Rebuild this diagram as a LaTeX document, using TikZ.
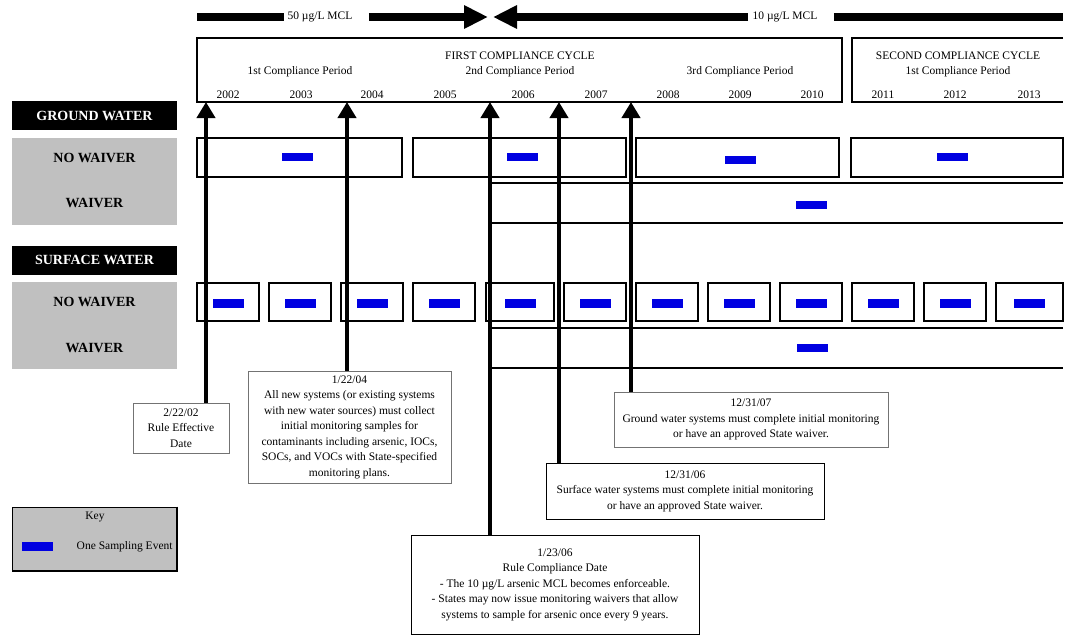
\documentclass[tikz,border=0pt]{standalone}
\usepackage{fontspec}
\setmainfont{Liberation Serif}
\usetikzlibrary{arrows.meta,positioning}
\definecolor{eventblue}{RGB}{0,0,225}
\definecolor{labelgray}{RGB}{192,192,192}

\begin{document}
\begin{tikzpicture}[x=1pt, y=-1pt, font=\fontsize{11.5}{15.5}\selectfont,
  period/.style = {draw, line width=1.2pt},
  event/.style = {fill=eventblue, minimum width=31pt, minimum height=8.5pt, inner sep=0pt},
  water/.style = {fill=black, text=white, font=\fontsize{14}{16}\selectfont\bfseries, minimum width=165pt, minimum height=29pt, inner sep=0pt},
  rowbox/.style = {fill=labelgray, minimum width=165pt, minimum height=87pt, inner sep=0pt},
  rowlbl/.style = {font=\fontsize{14}{16}\selectfont\bfseries},
  note/.style = {draw=black!55, fill=white, line width=1pt, align=center, inner sep=0pt},
  mcl/.style = {line width=7.5pt},
  mcltip/.style = {mcl, -{Triangle[length=24pt,width=22pt]}},
  datearrow/.style = {line width=4pt, -{Triangle[length=16pt,width=18pt]}}]
\useasboundingbox (0,0) rectangle (1075,641);

\node (mcl50) at (320,17) {50 µg/L MCL};
\node (mcl10) at (785,17) {10 µg/L MCL};
\coordinate (meet) at (490.5,17);
\draw[mcl] (197,17) -- (mcl50.west);
\draw[mcltip] ([xshift=13pt]mcl50.east) -- ([xshift=-2.5pt]meet);
\draw[mcltip] ([xshift=-1pt]mcl10.west) -- ([xshift=2.5pt]meet);
\draw[mcl] ([xshift=13pt]mcl10.east) -- (1063,17);

\draw[period] (197,38) rectangle (842,102);
\draw[period] (1063,38) -- (852,38) -- (852,102) -- (1063,102);
\node (cycle1) at (520,56) {FIRST COMPLIANCE CYCLE};
\node (per1) at (300,72) {1st Compliance Period};
\node (per2) at (520,72) {2nd Compliance Period};
\node (per3) at (740,72) {3rd Compliance Period};
\node (cycle2) at (958,56) {SECOND COMPLIANCE CYCLE};
\node (per4) at (958,72) {1st Compliance Period};
\foreach \yr/\x in {2002/228,2003/301,2004/372,2005/445,2006/523,2007/596,2008/668,2009/740,2010/812,2011/883,2012/955,2013/1029}
  \node (y\yr) at (\x,95) {\yr};

\node[water] (gw) at (94.5,115.5) {GROUND WATER};
\node[rowbox] (gwrows) at (94.5,181.5) {};
\node[rowlbl] (gwnw) at (94.5,158) {NO WAIVER};
\node[rowlbl] (gww) at (94.5,203) {WAIVER};
\node[water] (sw) at (94.5,260) {SURFACE WATER};
\node[rowbox] (swrows) at (94.5,325.5) {};
\node[rowlbl] (swnw) at (94.5,302) {NO WAIVER};
\node[rowlbl] (sww) at (94.5,348) {WAIVER};

\foreach \a/\b/\m/\h [count=\i] in {197/402/297.5/157,413/626/522.5/157,636/839/740.5/160,851/1063/952.5/157} {
  \draw[period] (\a,138) rectangle (\b,177);
  \node[event] (gw\i) at (\m,\h) {};
}
\draw[period] (1063,183) -- (491,183) -- (491,223) -- (1063,223);
\node[event] (gwv) at (811.5,205) {};

\foreach \a/\b [count=\i] in {197/259,269/331,341/403,413/475,486/554,564/626,636/698,708/770,780/842,852/914,924/986,996/1063} {
  \draw[period] (\a,283) rectangle (\b,321);
  \node[event] (sw\i) at ({(\a+\b)/2},303.5) {};
}
\draw[period] (1063,328) -- (491,328) -- (491,368) -- (1063,368);
\node[event] (swv) at (812.5,348) {};

\node[note, minimum width=96pt, minimum height=50pt] (n1) at (181,428) {2/22/02\\Rule Effective\\Date};
\node[note, minimum width=203pt, minimum height=112pt] (n2) at (349.5,427) {1/22/04\\All new systems (or existing systems\\with new water sources) must collect\\initial monitoring samples for\\contaminants including arsenic, IOCs,\\SOCs, and VOCs with State-specified\\monitoring plans.};
\node[note, minimum width=274pt, minimum height=55pt] (n3) at (751,419.5) {12/31/07\\Ground water systems must complete initial monitoring\\or have an approved State waiver.};
\node[note, draw=black, minimum width=278pt, minimum height=56pt] (n4) at (685,491) {12/31/06\\Surface water systems must complete initial monitoring\\or have an approved State waiver.};
\node[note, draw=black, minimum width=288pt, minimum height=99pt] (n5) at (555,584.5) {1/23/06\\Rule Compliance Date\\- The 10 µg/L arsenic MCL becomes enforceable.\\- States may now issue monitoring waivers that allow\\systems to sample for arsenic once every 9 years.};

\coordinate (t1) at (206,102);
\coordinate (t2) at (347,102);
\coordinate (t3) at (490,102);
\coordinate (t4) at (559,102);
\coordinate (t5) at (631,102);
\draw[datearrow] (n1.north -| t1) -- (t1);
\draw[datearrow] (n2.north -| t2) -- (t2);
\draw[datearrow] (n5.north -| t3) -- (t3);
\draw[datearrow] (n4.north -| t4) -- (t4);
\draw[datearrow] (n3.north -| t5) -- (t5);

\node[draw, fill=labelgray, line width=1pt, minimum width=164pt, minimum height=63pt] (key) at (94,538.5) {};
\draw[line width=2pt] (key.north east) -- (key.south east) -- (key.south west);
\node (keytitle) at (95,517) {Key};
\node[event] (keyevent) at (37.5,546.5) {};
\node[right=20pt of keyevent] (keytext) {One Sampling Event};
\end{tikzpicture}
\end{document}
